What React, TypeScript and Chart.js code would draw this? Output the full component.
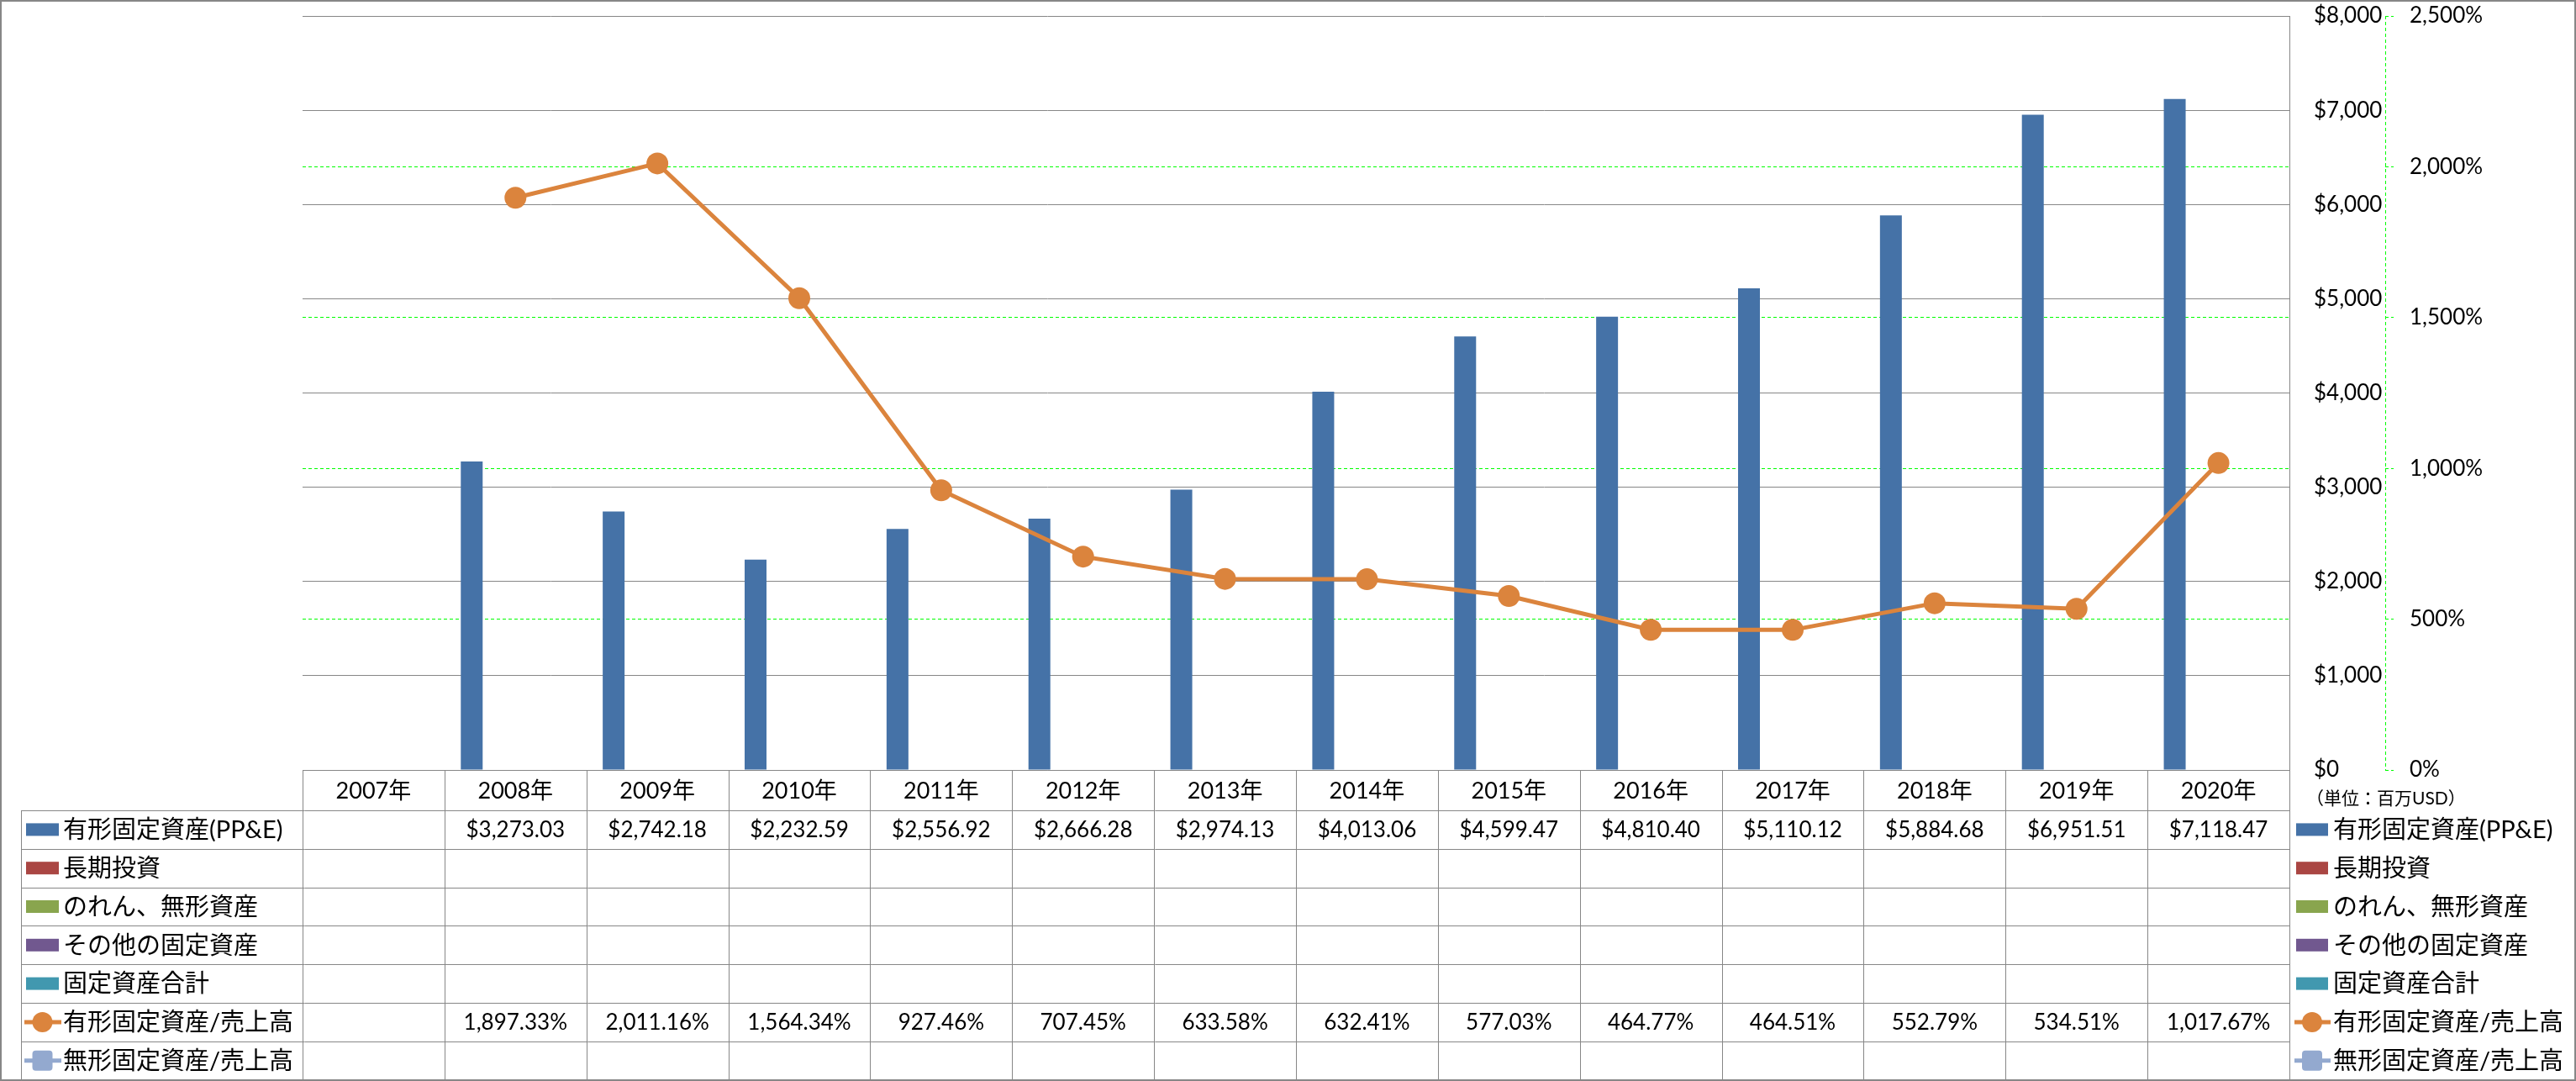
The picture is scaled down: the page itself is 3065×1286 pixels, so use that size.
import React, { useEffect, useRef } from 'react';
import { Chart, registerables } from 'chart.js';

Chart.register(...registerables);

// ---------------- data ----------------
const YEARS = ['2007年', '2008年', '2009年', '2010年', '2011年', '2012年', '2013年', '2014年', '2015年', '2016年', '2017年', '2018年', '2019年', '2020年'];

const PPE = [null, 3273.03, 2742.18, 2232.59, 2556.92, 2666.28, 2974.13, 4013.06, 4599.47, 4810.40, 5110.12, 5884.68, 6951.51, 7118.47];
const LONG_TERM_INVEST = [null, null, null, null, null, null, null, null, null, null, null, null, null, null];
const GOODWILL_INTANGIBLE = [null, null, null, null, null, null, null, null, null, null, null, null, null, null];
const OTHER_FIXED = [null, null, null, null, null, null, null, null, null, null, null, null, null, null];
const TOTAL_FIXED = [null, null, null, null, null, null, null, null, null, null, null, null, null, null];
const PPE_TO_SALES = [null, 1897.33, 2011.16, 1564.34, 927.46, 707.45, 633.58, 632.41, 577.03, 464.77, 464.51, 552.79, 534.51, 1017.67];
const INTANGIBLE_TO_SALES = [null, null, null, null, null, null, null, null, null, null, null, null, null, null];

const SERIES_NAMES = ['有形固定資産(PP&E)', '長期投資', 'のれん、無形資産', 'その他の固定資産', '固定資産合計', '有形固定資産/売上高', '無形固定資産/売上高'];
const SERIES_COLORS = ['#4572A7', '#AA4643', '#89A54E', '#71588F', '#4198AF', '#DB843D', '#93A9CF'];

const Y_MIN = 0;
const Y_MAX = 8000;
const Y_STEP = 1000;
const Y1_MIN = 0;
const Y1_MAX = 2500;
const Y1_STEP = 500;
const UNIT_LABEL = '（単位：百万USD）';

// ---------------- styles ----------------
const W = 3065;
const H = 1286;
const FONT_FAMILY = 'Lato, "Noto Sans CJK JP", sans-serif';
const GRAY = '#878787';
const GREEN = '#00FF00';
const HEADER_H = 48;
const ROW_H = 45.8;
const LEGEND_LEFT = 25;

const fmtMoney = (v: number) => '$' + v.toLocaleString('en-US', { minimumFractionDigits: 2, maximumFractionDigits: 2 });
const fmtPct = (v: number) => v.toLocaleString('en-US', { minimumFractionDigits: 2, maximumFractionDigits: 2 }) + '%';

function drawLegendKey(ctx: CanvasRenderingContext2D, ds: any, x: number, cy: number, w: number) {
  if (ds.type === 'line') {
    ctx.save();
    ctx.strokeStyle = ds.borderColor;
    ctx.lineWidth = 5;
    ctx.beginPath();
    ctx.moveTo(x - 2, cy);
    ctx.lineTo(x + w + 3, cy);
    ctx.stroke();
    ctx.fillStyle = ds.pointBackgroundColor;
    const cx = x + w / 2;
    if (ds.pointStyle === 'rectRounded') {
      const s = 24;
      const r = 4;
      ctx.beginPath();
      ctx.moveTo(cx - s / 2 + r, cy - s / 2);
      ctx.arcTo(cx + s / 2, cy - s / 2, cx + s / 2, cy + s / 2, r);
      ctx.arcTo(cx + s / 2, cy + s / 2, cx - s / 2, cy + s / 2, r);
      ctx.arcTo(cx - s / 2, cy + s / 2, cx - s / 2, cy - s / 2, r);
      ctx.arcTo(cx - s / 2, cy - s / 2, cx + s / 2, cy - s / 2, r);
      ctx.closePath();
      ctx.fill();
    } else {
      ctx.beginPath();
      ctx.arc(cx, cy, 12, 0, Math.PI * 2);
      ctx.fill();
    }
    ctx.restore();
  } else {
    ctx.fillStyle = ds.backgroundColor;
    ctx.fillRect(x, cy - 7.5, w, 15);
  }
}

const tablePlugin = {
  id: 'dataTableAndFrame',
  afterDraw(chart: any) {
    const { ctx, chartArea: ca } = chart;
    const xs = chart.scales.x;
    const y1 = chart.scales.y1;
    const labels: string[] = chart.data.labels;
    const n = labels.length;
    const colW = xs.getPixelForValue(1) - xs.getPixelForValue(0);
    const datasets = chart.data.datasets;
    const tTop = ca.bottom;
    const hdrBottom = tTop + HEADER_H;
    const tBottom = hdrBottom + datasets.length * ROW_H;
    const px = (v: number) => Math.round(v) + 0.5;

    ctx.save();

    // secondary axis dashed line
    ctx.strokeStyle = GREEN;
    ctx.lineWidth = 1;
    ctx.setLineDash([4, 3]);
    ctx.beginPath();
    ctx.moveTo(px(y1.left), ca.top);
    ctx.lineTo(px(y1.left), ca.bottom);
    ctx.stroke();
    ctx.setLineDash([]);

    // table grid
    ctx.strokeStyle = GRAY;
    ctx.lineWidth = 1;
    ctx.beginPath();
    ctx.moveTo(ca.left, px(tTop));
    ctx.lineTo(ca.right, px(tTop));
    for (let r = 0; r <= datasets.length; r++) {
      const y = px(hdrBottom + r * ROW_H);
      ctx.moveTo(LEGEND_LEFT, y);
      ctx.lineTo(ca.right, y);
    }
    ctx.moveTo(px(LEGEND_LEFT), hdrBottom);
    ctx.lineTo(px(LEGEND_LEFT), tBottom);
    for (let i = 0; i <= n; i++) {
      const x = px(xs.getPixelForValue(Math.min(i, n - 1)) + (i < n ? -colW / 2 : colW / 2));
      ctx.moveTo(x, tTop);
      ctx.lineTo(x, tBottom);
    }
    ctx.stroke();

    // header
    ctx.fillStyle = '#000';
    ctx.textBaseline = 'middle';
    ctx.textAlign = 'center';
    ctx.font = `27px ${FONT_FAMILY}`;
    for (let i = 0; i < n; i++) {
      ctx.fillText(labels[i], xs.getPixelForValue(i), tTop + HEADER_H / 2 + 1);
    }

    // rows
    datasets.forEach((ds: any, r: number) => {
      const cy = hdrBottom + r * ROW_H + ROW_H / 2;
      // left legend
      drawLegendKey(ctx, ds, 31, cy, 39);
      ctx.fillStyle = '#000';
      ctx.textAlign = 'left';
      ctx.font = `29px ${FONT_FAMILY}`;
      ctx.fillText(ds.label, 75, cy + 1);
      // right legend
      drawLegendKey(ctx, ds, ca.right + 8, cy, 38);
      ctx.fillStyle = '#000';
      ctx.fillText(ds.label, ca.right + 52, cy + 1);
      // values
      ctx.textAlign = 'center';
      ctx.font = `26px ${FONT_FAMILY}`;
      for (let i = 0; i < n; i++) {
        const v = ds.data[i];
        if (v === null || v === undefined) continue;
        const txt = ds.type === 'line' ? fmtPct(v) : fmtMoney(v);
        ctx.fillText(txt, xs.getPixelForValue(i), cy + 1);
      }
    });

    // unit label
    ctx.textAlign = 'left';
    ctx.font = `21px ${FONT_FAMILY}`;
    ctx.fillText(UNIT_LABEL, ca.right + 20, tTop + 34);

    // outer frame
    ctx.strokeStyle = GRAY;
    ctx.lineWidth = 2;
    ctx.strokeRect(1, 1, chart.width - 2, chart.height - 2);

    ctx.restore();
  },
};

export default function App() {
  const canvasRef = useRef<HTMLCanvasElement | null>(null);

  useEffect(() => {
    const canvas = canvasRef.current;
    if (!canvas) return;
    const barSeries = [PPE, LONG_TERM_INVEST, GOODWILL_INTANGIBLE, OTHER_FIXED, TOTAL_FIXED];
    const lineSeries = [PPE_TO_SALES, INTANGIBLE_TO_SALES];
    const datasets: any[] = [
      ...barSeries.map((d, i) => ({
        type: 'bar',
        label: SERIES_NAMES[i],
        data: d,
        backgroundColor: SERIES_COLORS[i],
        borderWidth: 0,
        yAxisID: 'y',
        order: 1,
        categoryPercentage: 0.77,
        barPercentage: 1.0,
      })),
      ...lineSeries.map((d, j) => ({
        type: 'line',
        label: SERIES_NAMES[5 + j],
        data: d,
        borderColor: SERIES_COLORS[5 + j],
        backgroundColor: SERIES_COLORS[5 + j],
        pointBackgroundColor: SERIES_COLORS[5 + j],
        pointBorderWidth: 0,
        pointRadius: 13,
        pointStyle: j === 0 ? 'circle' : 'rectRounded',
        borderWidth: 5,
        tension: 0,
        fill: false,
        yAxisID: 'y1',
        order: 0,
      })),
    ];

    const chart = new Chart(canvas, {
      type: 'bar',
      data: { labels: YEARS, datasets },
      options: {
        responsive: false,
        animation: false,
        devicePixelRatio: 1,
        events: [],
        layout: { padding: { left: 360, top: 19, bottom: H - 916, right: 0 } },
        plugins: { legend: { display: false }, tooltip: { enabled: false } },
        scales: {
          x: { display: false, offset: true },
          y: {
            position: 'right',
            weight: 0,
            min: Y_MIN,
            max: Y_MAX,
            ticks: {
              stepSize: Y_STEP,
              padding: 29,
              color: '#000',
              font: { family: FONT_FAMILY, size: 26 },
              callback: (v: any) => '$' + Number(v).toLocaleString('en-US'),
            },
            grid: { color: GRAY, lineWidth: 1, drawTicks: false },
            border: { display: true, color: GRAY, width: 1 },
            afterFit: (s: any) => { s.width = 114; s.paddingTop = 0; s.paddingBottom = 0; },
          },
          y1: {
            position: 'right',
            weight: 1,
            min: Y1_MIN,
            max: Y1_MAX,
            ticks: {
              stepSize: Y1_STEP,
              padding: 19,
              color: '#000',
              font: { family: FONT_FAMILY, size: 26 },
              callback: (v: any) => Number(v).toLocaleString('en-US') + '%',
            },
            grid: {
              drawOnChartArea: true,
              color: (c: any) => (c.tick && (c.tick.value === Y1_MIN || c.tick.value === Y1_MAX) ? 'rgba(0,0,0,0)' : GREEN),
              tickColor: GREEN,
              tickLength: 10,
              tickBorderDash: [4, 3],
              lineWidth: 1,
            },
            border: { display: false, dash: [4, 3] },
            afterFit: (s: any) => { s.width = 227; s.paddingTop = 0; s.paddingBottom = 0; },
          },
        },
      } as any,
      plugins: [tablePlugin],
    } as any);

    return () => chart.destroy();
  }, []);

  return (
    <div style={{ position: 'absolute', left: 0, top: 0, width: W, height: H, background: '#fff' }}>
      <canvas ref={canvasRef} width={W} height={H} style={{ display: 'block', width: W, height: H }} />
    </div>
  );
}
